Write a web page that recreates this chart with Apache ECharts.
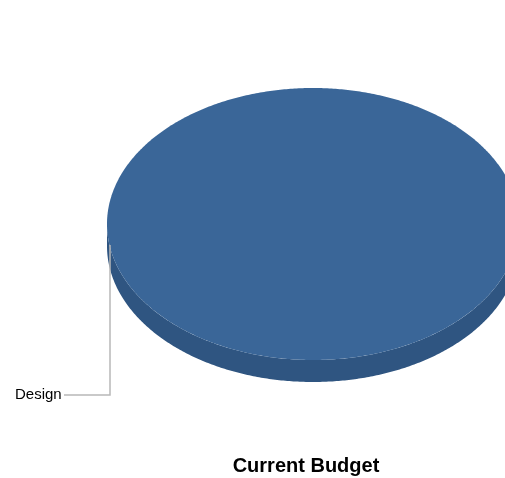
<!DOCTYPE html>
<html>
<head>
<meta charset="utf-8">
<script src="https://cdn.jsdelivr.net/npm/echarts@6/dist/echarts.min.js"></script>
<style>html,body{margin:0;padding:0;background:#fff}#c{width:505px;height:478px}</style>
</head>
<body>
<div id="c"></div>
<script>
var categories = ['Design'];
var values = [100];
var titleText = 'Current Budget';

var chart = echarts.init(document.getElementById('c'), null, {renderer: 'canvas'});
var total = values.reduce(function (a, b) { return a + b; }, 0);
var data = categories.map(function (c, i) { return {name: c, value: values[i]}; });

var CX = 313, CY = 224, RX = 206, RY = 136, DEPTH = 22;
var TOP = '#3a6698', SIDE = '#2f5581';

function arcPts(a0, a1, dy) {
  var pts = [], n = Math.max(8, Math.ceil(Math.abs(a1 - a0) / 0.01));
  for (var k = 0; k <= n; k++) {
    var a = a0 + (a1 - a0) * k / n;
    pts.push([CX + RX * Math.cos(a), CY + dy + RY * Math.sin(a)]);
  }
  return pts;
}

chart.setOption({
  animation: false,
  title: {
    text: titleText, left: 301, top: 451, textAlign: 'center',
    textStyle: {fontFamily: 'Liberation Sans, Arial', fontSize: 20, fontWeight: 'bold', color: '#000'}
  },
  series: [{
    type: 'custom',
    coordinateSystem: 'none',
    data: data,
    renderItem: function (params, api) {
      var i = params.dataIndex;
      var before = 0;
      for (var j = 0; j < i; j++) before += values[j];
      var a0 = -Math.PI / 2 + 2 * Math.PI * before / total;
      var a1 = a0 + 2 * Math.PI * values[i] / total;
      var children = [];
      var ranges = [[0, Math.PI], [2 * Math.PI, 3 * Math.PI]];
      ranges.forEach(function (r) {
        var s = Math.max(a0, r[0]), e = Math.min(a1, r[1]);
        if (e > s) {
          var upper = arcPts(s, e, 0);
          var lower = arcPts(e, s, DEPTH);
          children.push({type: 'polygon', shape: {points: upper.concat(lower)}, style: {fill: SIDE}});
        }
      });
      var topPts = (a1 - a0 >= 2 * Math.PI - 1e-9) ? arcPts(a0, a1, 0) : [[CX, CY]].concat(arcPts(a0, a1, 0));
      children.push({type: 'polygon', shape: {points: topPts}, style: {fill: TOP}});
      var ax = CX - RX + 3, ay = CY + 21;
      children.push({type: 'polyline', shape: {points: [[ax, ay], [ax, 395], [64, 395]]},
        style: {stroke: '#b8b8b8', lineWidth: 1.5, fill: null}});
      children.push({type: 'text', style: {text: categories[i], x: 15, y: 395, align: 'left', verticalAlign: 'middle',
        font: '15px "Liberation Sans", Arial', fill: '#000'}});
      return {type: 'group', children: children};
    }
  }]
});
</script>
</body>
</html>
